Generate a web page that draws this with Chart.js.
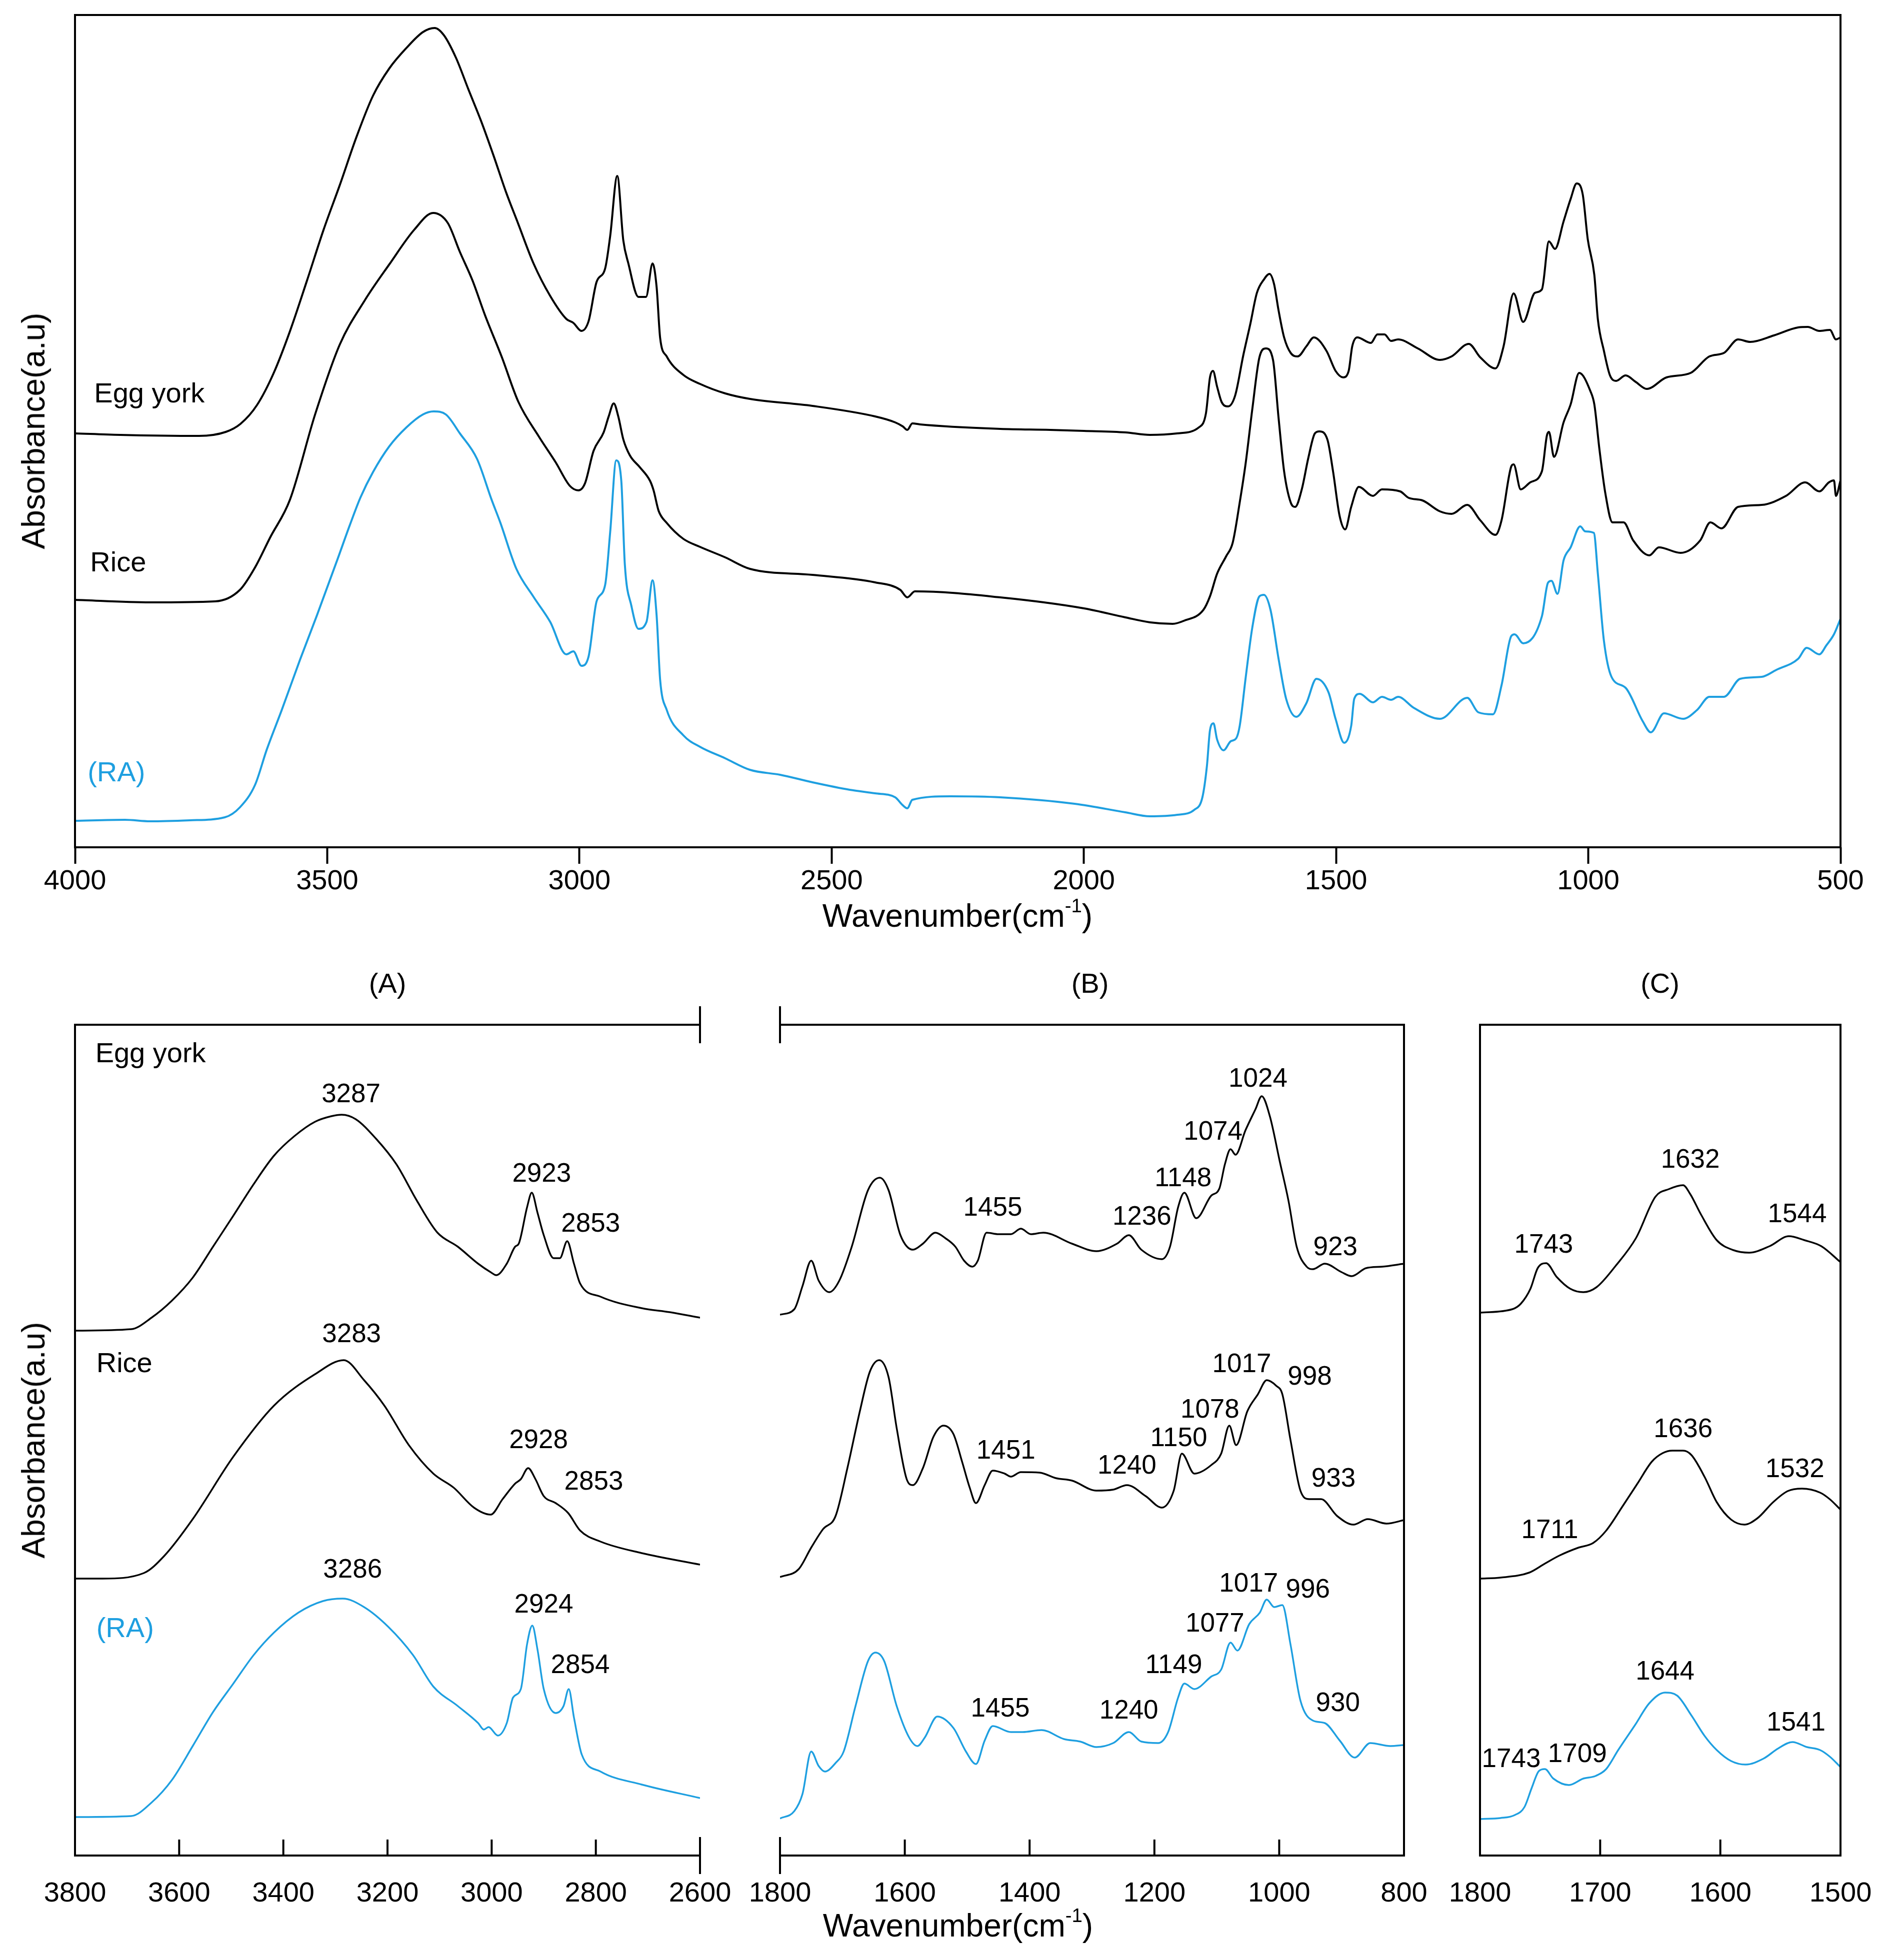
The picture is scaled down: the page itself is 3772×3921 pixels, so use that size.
<!DOCTYPE html>
<html>
<head>
<meta charset="utf-8">
<title>FTIR spectra</title>
<script src="https://cdn.jsdelivr.net/npm/chart.js@4.4.1/dist/chart.umd.min.js"></script>
<style>
  body { margin: 0; background: #fff; }
  #page { position: relative; width: 3772px; height: 3921px; overflow: hidden; background: #fff;
          font-family: "Liberation Sans", Arial, sans-serif; color: #000; }
  canvas { position: absolute; }
  .lbl { position: absolute; white-space: nowrap; line-height: 1; transform: translate(-50%, -50%); }
  .ytitle { transform: translate(-50%, -50%) rotate(-90deg); }
  sup { font-size: 0.6em; vertical-align: 0.75em; line-height: 0; }
</style>
</head>
<body>
<div id="page">
  <canvas id="top" width="3772" height="1870" style="left:0;top:0"></canvas>
  <canvas id="panelA" width="1510" height="1980" style="left:0;top:1900px"></canvas>
  <canvas id="panelB" width="1450" height="1980" style="left:1450px;top:1900px"></canvas>
  <canvas id="panelC" width="931" height="1980" style="left:2850px;top:1900px"></canvas>

  <div class="lbl ytitle" style="left:67px;top:862px;font-size:64px">Absorbance(a.u)</div>
  <div class="lbl" style="left:1915px;top:1832px;font-size:64px">Wavenumber(cm<sup>-1</sup>)</div>
  <div class="lbl" style="left:775px;top:1967px;font-size:56px">(A)</div>
  <div class="lbl" style="left:2180px;top:1967px;font-size:56px">(B)</div>
  <div class="lbl" style="left:3320px;top:1967px;font-size:56px">(C)</div>
  <div class="lbl ytitle" style="left:67px;top:2881px;font-size:64px">Absorbance(a.u)</div>
  <div class="lbl" style="left:1916px;top:3852px;font-size:64px">Wavenumber(cm<sup>-1</sup>)</div>
</div>
<script>
const BLACK = '#000';
const BLUE = '#1e9fe0';
const FONT = '"Liberation Sans", Arial, sans-serif';

// tick labels
const topTicks = [4000, 3500, 3000, 2500, 2000, 1500, 1000, 500];
const aTicks = [3800, 3600, 3400, 3200, 3000, 2800, 2600];
const bTicks = [1800, 1600, 1400, 1200, 1000, 800];
const cTicks = [1800, 1700, 1600, 1500];

// full spectra, [wavenumber, absorbance (a.u., offset)]
const topEgg = [[4000,828],[3911,825],[3754,823],[3701,831],[3672,847],[3639,885],[3606,949],[3574,1032],[3540,1134],[3507,1236],[3475,1325],[3442,1421],[3409,1504],[3377,1558],[3343,1599],[3310,1631],[3287,1639],[3269,1625],[3245,1580],[3220,1516],[3195,1453],[3170,1383],[3146,1312],[3122,1249],[3091,1168],[3058,1103],[3026,1057],[3012,1049],[2996,1033],[2982,1052],[2966,1131],[2949,1158],[2939,1223],[2925,1343],[2913,1214],[2903,1168],[2883,1101],[2868,1101],[2855,1168],[2847,1121],[2840,1019],[2827,982],[2794,945],[2761,927],[2711,908],[2662,897],[2538,883],[2414,862],[2374,850],[2359,842],[2350,835],[2340,848],[2325,846],[2166,837],[2067,835],[2000,833],[1918,830],[1869,825],[1815,828],[1772,840],[1758,868],[1750,940],[1744,953],[1736,922],[1727,891],[1714,882],[1700,904],[1684,984],[1670,1047],[1657,1109],[1643,1136],[1632,1147],[1623,1127],[1614,1074],[1603,1020],[1590,989],[1576,982],[1559,1002],[1544,1020],[1519,993],[1501,953],[1486,940],[1475,953],[1468,1002],[1458,1020],[1431,1009],[1418,1026],[1404,1026],[1391,1013],[1377,1016],[1338,998],[1294,975],[1271,982],[1237,1007],[1214,980],[1184,958],[1168,1002],[1148,1108],[1129,1051],[1106,1109],[1092,1116],[1078,1212],[1066,1197],[1049,1252],[1035,1297],[1023,1328],[1011,1306],[1001,1216],[988,1145],[981,1056],[969,993],[957,944],[945,933],[926,944],[906,931],[884,917],[845,940],[797,949],[760,982],[731,989],[703,1016],[679,1011],[632,1024],[584,1040],[565,1041],[542,1033],[521,1035],[509,1016],[500,1020]];
const topRice = [[4000,495],[3851,490],[3722,492],[3673,515],[3643,560],[3613,620],[3574,695],[3524,866],[3475,1006],[3425,1095],[3377,1166],[3327,1236],[3290,1269],[3261,1249],[3237,1191],[3212,1134],[3187,1064],[3154,981],[3121,891],[3080,821],[3047,770],[3019,723],[3002,714],[2989,728],[2972,793],[2952,830],[2942,862],[2932,888],[2923,862],[2913,816],[2900,784],[2880,760],[2860,733],[2853,714],[2843,673],[2827,649],[2794,617],[2761,601],[2711,580],[2662,557],[2538,545],[2414,530],[2364,515],[2350,500],[2335,512],[2166,500],[2000,478],[1918,460],[1869,450],[1824,447],[1802,453],[1763,475],[1750,502],[1736,547],[1718,582],[1705,609],[1691,690],[1679,770],[1666,877],[1652,980],[1639,998],[1625,975],[1614,859],[1603,752],[1590,690],[1581,681],[1568,716],[1555,779],[1542,828],[1533,832],[1517,815],[1506,752],[1493,663],[1482,636],[1470,681],[1455,721],[1427,703],[1409,716],[1373,712],[1356,699],[1329,694],[1294,672],[1271,667],[1240,685],[1214,654],[1184,625],[1172,654],[1153,761],[1148,766],[1134,716],[1115,730],[1092,752],[1082,824],[1078,831],[1068,781],[1049,850],[1035,886],[1018,949],[996,913],[988,886],[978,797],[966,707],[952,650],[930,650],[911,614],[879,584],[860,600],[817,589],[778,614],[758,650],[736,638],[703,681],[656,685],[608,703],[570,730],[542,712],[523,730],[513,734],[509,703],[500,734]];
const topRa = [[4000,53],[3901,55],[3851,52],[3772,54],[3703,60],[3673,80],[3643,125],[3620,195],[3590,275],[3554,375],[3520,465],[3480,575],[3455,645],[3434,700],[3409,751],[3377,802],[3343,840],[3310,866],[3289,872],[3265,866],[3237,828],[3203,777],[3174,695],[3157,650],[3125,557],[3091,501],[3058,451],[3026,386],[3012,392],[2996,363],[2982,381],[2966,492],[2949,525],[2939,631],[2927,774],[2917,733],[2910,566],[2897,483],[2883,437],[2867,451],[2855,534],[2847,464],[2840,335],[2827,275],[2794,224],[2761,201],[2711,178],[2662,155],[2602,145],[2538,130],[2464,115],[2414,108],[2374,100],[2360,85],[2350,78],[2340,95],[2265,102],[2166,100],[2018,87],[1918,70],[1869,62],[1815,65],[1781,75],[1765,100],[1756,163],[1750,234],[1743,248],[1736,216],[1723,194],[1709,212],[1698,218],[1691,243],[1679,341],[1666,440],[1652,502],[1643,505],[1630,475],[1614,377],[1599,297],[1579,261],[1559,288],[1539,337],[1515,310],[1501,257],[1484,209],[1470,243],[1464,297],[1453,307],[1427,290],[1409,301],[1391,295],[1377,301],[1346,279],[1294,257],[1240,299],[1218,270],[1189,266],[1172,324],[1153,422],[1146,426],[1129,408],[1092,462],[1080,529],[1073,533],[1061,507],[1049,574],[1035,600],[1016,642],[1006,632],[989,629],[981,547],[969,413],[954,341],[926,319],[892,252],[876,230],[850,268],[812,257],[784,275],[760,301],[731,301],[699,337],[656,341],[627,355],[584,377],[567,399],[542,386],[528,404],[513,426],[500,457]];

// (A) 3800-2600
const aEgg = [[3800,1050],[3692,1053],[3653,1076],[3614,1110],[3574,1156],[3535,1218],[3496,1280],[3457,1343],[3418,1400],[3379,1439],[3339,1468],[3308,1479],[3288,1482],[3261,1473],[3222,1434],[3183,1383],[3143,1309],[3104,1246],[3065,1218],[3026,1184],[3002,1167],[2991,1161],[2971,1184],[2955,1218],[2948,1224],[2932,1297],[2923,1326],[2912,1286],[2900,1241],[2881,1195],[2869,1195],[2855,1229],[2842,1184],[2830,1144],[2791,1118],[2712,1095],[2658,1087],[2600,1076]];
const aRice = [[3800,554],[3747,554],[3668,565],[3629,599],[3574,673],[3496,798],[3418,900],[3339,963],[3284,991],[3245,951],[3206,900],[3159,821],[3112,764],[3073,736],[3034,696],[3002,682],[2979,713],[2955,744],[2944,753],[2930,775],[2916,753],[2900,719],[2877,705],[2853,685],[2830,650],[2791,628],[2712,605],[2600,582]];
const aRa = [[3800,77],[3692,79],[3653,106],[3614,151],[3574,219],[3535,287],[3496,344],[3457,401],[3418,446],[3371,486],[3324,509],[3286,514],[3245,497],[3198,457],[3151,401],[3112,338],[3065,299],[3026,265],[3015,252],[3006,257],[2988,240],[2971,265],[2959,316],[2944,333],[2932,423],[2922,460],[2912,412],[2900,333],[2877,285],[2862,299],[2852,333],[2842,276],[2827,202],[2791,168],[2712,142],[2600,115]];

// (B) 1800-800
const bEgg = [[1800,1082],[1777,1093],[1764,1139],[1750,1190],[1738,1150],[1721,1127],[1705,1150],[1685,1218],[1659,1331],[1640,1356],[1626,1331],[1607,1241],[1587,1212],[1571,1224],[1551,1246],[1535,1235],[1519,1218],[1505,1190],[1492,1178],[1483,1190],[1469,1246],[1450,1243],[1430,1243],[1414,1254],[1398,1243],[1378,1246],[1332,1224],[1293,1209],[1260,1224],[1241,1241],[1221,1212],[1188,1193],[1175,1218],[1162,1297],[1152,1326],[1133,1275],[1109,1320],[1096,1334],[1087,1383],[1078,1413],[1070,1402],[1054,1451],[1038,1493],[1028,1519],[1015,1479],[999,1388],[985,1309],[972,1218],[956,1178],[946,1173],[927,1184],[900,1167],[884,1159],[861,1175],[835,1178],[800,1184]];
const bRice = [[1800,557],[1770,573],[1750,616],[1731,653],[1711,679],[1692,775],[1672,889],[1656,968],[1641,991],[1626,957],[1613,855],[1597,753],[1587,741],[1571,775],[1554,838],[1538,860],[1522,843],[1508,787],[1496,736],[1486,705],[1472,741],[1459,770],[1440,764],[1430,758],[1414,767],[1384,766],[1358,755],[1332,750],[1293,730],[1266,732],[1244,741],[1214,719],[1188,696],[1169,730],[1156,804],[1136,764],[1109,781],[1093,804],[1080,860],[1069,821],[1051,889],[1034,923],[1020,951],[1005,940],[995,923],[982,832],[966,730],[952,713],[933,713],[907,679],[881,662],[858,673],[828,664],[800,671]];
const bRa = [[1800,74],[1777,89],[1764,123],[1750,208],[1738,179],[1728,168],[1711,185],[1698,208],[1679,299],[1659,389],[1647,406],[1633,389],[1613,299],[1593,236],[1580,219],[1568,236],[1548,278],[1522,255],[1502,208],[1486,183],[1472,230],[1459,259],[1430,247],[1411,247],[1381,251],[1345,233],[1319,228],[1293,217],[1266,225],[1241,247],[1221,228],[1194,225],[1178,247],[1162,316],[1152,344],[1136,333],[1109,358],[1093,372],[1078,426],[1067,410],[1048,463],[1031,486],[1020,512],[1008,497],[995,501],[982,423],[966,310],[946,270],[927,265],[903,230],[879,196],[854,225],[822,219],[800,221]];

// (C) 1800-1500
const cEgg = [[1800,1086],[1773,1093],[1766,1104],[1758,1134],[1752,1175],[1745,1185],[1736,1157],[1725,1134],[1714,1127],[1703,1137],[1687,1180],[1670,1236],[1654,1318],[1643,1333],[1631,1341],[1625,1323],[1616,1282],[1603,1231],[1589,1211],[1576,1206],[1559,1219],[1543,1239],[1530,1231],[1516,1219],[1500,1187]];
const cRice = [[1800,554],[1783,556],[1759,566],[1746,584],[1734,600],[1718,616],[1706,625],[1695,650],[1681,700],[1669,744],[1657,788],[1648,805],[1640,810],[1631,810],[1624,801],[1613,757],[1603,707],[1591,672],[1580,662],[1569,675],[1556,707],[1544,729],[1532,734],[1517,726],[1509,713],[1500,692]];
const cRa = [[1800,73],[1783,75],[1771,81],[1763,97],[1757,135],[1751,169],[1746,173],[1739,154],[1726,141],[1714,154],[1704,159],[1695,173],[1685,211],[1671,261],[1659,305],[1646,326],[1636,320],[1624,280],[1613,239],[1603,211],[1591,189],[1579,182],[1564,194],[1552,214],[1540,227],[1528,217],[1517,211],[1509,198],[1500,177]];

// sample names [wavenumber, y, text, colour]
const topNames = [[3962,905,'Egg york',BLACK],[3970,567,'Rice',BLACK],[3975,147,'(RA)',BLUE]];
const aNames = [[3761,1602,'Egg york',BLACK],[3759,982,'Rice',BLACK],[3759,452,'(RA)',BLUE]];

// peak annotations [wavenumber, y, text]
const aPeaks = [[3270,1522,'3287'],[2904,1363,'2923'],[2810,1263,'2853'],[3269,1042,'3283'],[2910,830,'2928'],[2804,747,'2853'],[3267,571,'3286'],[2900,501,'2924'],[2830,380,'2854']];
const bPeaks = [[1459,1295,'1455'],[1220,1277,'1236'],[1154,1354,'1148'],[1106,1447,'1074'],[1034,1553,'1024'],[910,1216,'923'],
  [1438,809,'1451'],[1244,779,'1240'],[1161,834,'1150'],[1111,891,'1078'],[1060,982,'1017'],[951,957,'998'],[913,753,'933'],
  [1447,293,'1455'],[1241,289,'1240'],[1169,380,'1149'],[1103,463,'1077'],[1049,543,'1017'],[954,531,'996'],[906,304,'930']];
const cPeaks = [[1747,1221,'1743'],[1625,1391,'1632'],[1536,1282,'1544'],[1742,650,'1711'],[1631,852,'1636'],[1538,772,'1532'],
  [1774,192,'1743'],[1719,202,'1709'],[1646,367,'1644'],[1537,265,'1541']];

Chart.defaults.color = BLACK;
Chart.defaults.font.family = FONT;

// frame, inward ticks, axis-break marks and text labels
function overlay(cfg) {
  return {
    id: 'overlay',
    afterDatasetsDraw(chart) {
      const { ctx, chartArea: a } = chart;
      const xs = chart.scales.x, ys = chart.scales.y;
      ctx.save();
      ctx.strokeStyle = BLACK;
      ctx.lineWidth = 4;
      ctx.lineCap = 'square';
      ctx.beginPath();
      const s = cfg.sides;
      if (s.includes('t')) { ctx.moveTo(a.left, a.top); ctx.lineTo(a.right, a.top); }
      if (s.includes('b')) { ctx.moveTo(a.left, a.bottom); ctx.lineTo(a.right, a.bottom); }
      if (s.includes('l')) { ctx.moveTo(a.left, a.top); ctx.lineTo(a.left, a.bottom); }
      if (s.includes('r')) { ctx.moveTo(a.right, a.top); ctx.lineTo(a.right, a.bottom); }
      if (cfg.inTicks) {
        xs.ticks.forEach(t => {
          const px = xs.getPixelForValue(t.value);
          if (px > a.left + 5 && px < a.right - 5) {
            ctx.moveTo(px, a.bottom);
            ctx.lineTo(px, a.bottom - 30);
          }
        });
      }
      (cfg.breaks || []).forEach(v => {
        const px = xs.getPixelForValue(v);
        ctx.moveTo(px, a.top - 35); ctx.lineTo(px, a.top + 35);
        ctx.moveTo(px, a.bottom - 35); ctx.lineTo(px, a.bottom + 35);
      });
      ctx.stroke();

      ctx.textBaseline = 'middle';
      ctx.textAlign = 'center';
      ctx.fillStyle = BLACK;
      ctx.font = '53px ' + FONT;
      (cfg.peaks || []).forEach(([wn, v, t]) => {
        ctx.fillText(t, xs.getPixelForValue(wn), ys.getPixelForValue(v));
      });
      ctx.textAlign = 'left';
      ctx.font = '56px ' + FONT;
      (cfg.names || []).forEach(([wn, v, t, c]) => {
        ctx.fillStyle = c;
        ctx.fillText(t, xs.getPixelForValue(wn), ys.getPixelForValue(v));
      });
      ctx.restore();
    }
  };
}

function makePanel(id, o) {
  return new Chart(document.getElementById(id), {
    type: 'line',
    data: {
      datasets: o.series.map(([pts, color]) => ({
        data: pts.map(([x, y]) => ({ x, y })),
        borderColor: color,
        borderWidth: o.lw,
        pointRadius: 0,
        fill: false,
        cubicInterpolationMode: 'monotone'
      }))
    },
    options: {
      responsive: false,
      animation: false,
      devicePixelRatio: 1,
      layout: { padding: o.pad },
      plugins: { legend: { display: false }, tooltip: { enabled: false } },
      scales: {
        x: {
          type: 'linear',
          reverse: true,
          min: o.ticks[o.ticks.length - 1],
          max: o.ticks[0],
          afterBuildTicks: s => { s.ticks = o.ticks.map(v => ({ value: v })); },
          afterFit: s => { s.height = o.axisH; },
          ticks: {
            font: { size: 56 },
            color: BLACK,
            padding: o.tickPad,
            maxRotation: 0,
            autoSkip: false,
            callback: v => String(v)
          },
          grid: o.outTicks
            ? { drawOnChartArea: false, tickLength: 33, tickWidth: 4, tickColor: BLACK }
            : { display: false },
          border: { display: false }
        },
        y: { display: false, min: 0, max: o.ymax }
      }
    },
    plugins: [overlay(o)]
  });
}

makePanel('top', {
  series: [[topEgg, BLACK], [topRice, BLACK], [topRa, BLUE]],
  ticks: topTicks, lw: 4, ymax: 1665, axisH: 175, tickPad: 2, outTicks: true,
  pad: { left: 150, right: 91, top: 30, bottom: 0 },
  sides: 'tblr', names: topNames
});

makePanel('panelA', {
  series: [[aEgg, BLACK], [aRice, BLACK], [aRa, BLUE]],
  ticks: aTicks, lw: 3.5, ymax: 1662, axisH: 168, tickPad: 35, inTicks: true,
  pad: { left: 150, right: 110, top: 150, bottom: 0 },
  sides: 'tbl', breaks: [2600], names: aNames, peaks: aPeaks
});

makePanel('panelB', {
  series: [[bEgg, BLACK], [bRice, BLACK], [bRa, BLUE]],
  ticks: bTicks, lw: 3.5, ymax: 1662, axisH: 168, tickPad: 35, inTicks: true,
  pad: { left: 110, right: 92, top: 150, bottom: 0 },
  sides: 'tbr', breaks: [1800], peaks: bPeaks
});

makePanel('panelC', {
  series: [[cEgg, BLACK], [cRice, BLACK], [cRa, BLUE]],
  ticks: cTicks, lw: 3.5, ymax: 1662, axisH: 168, tickPad: 35, inTicks: true,
  pad: { left: 110, right: 100, top: 150, bottom: 0 },
  sides: 'tblr', peaks: cPeaks
});
</script>
</body>
</html>
